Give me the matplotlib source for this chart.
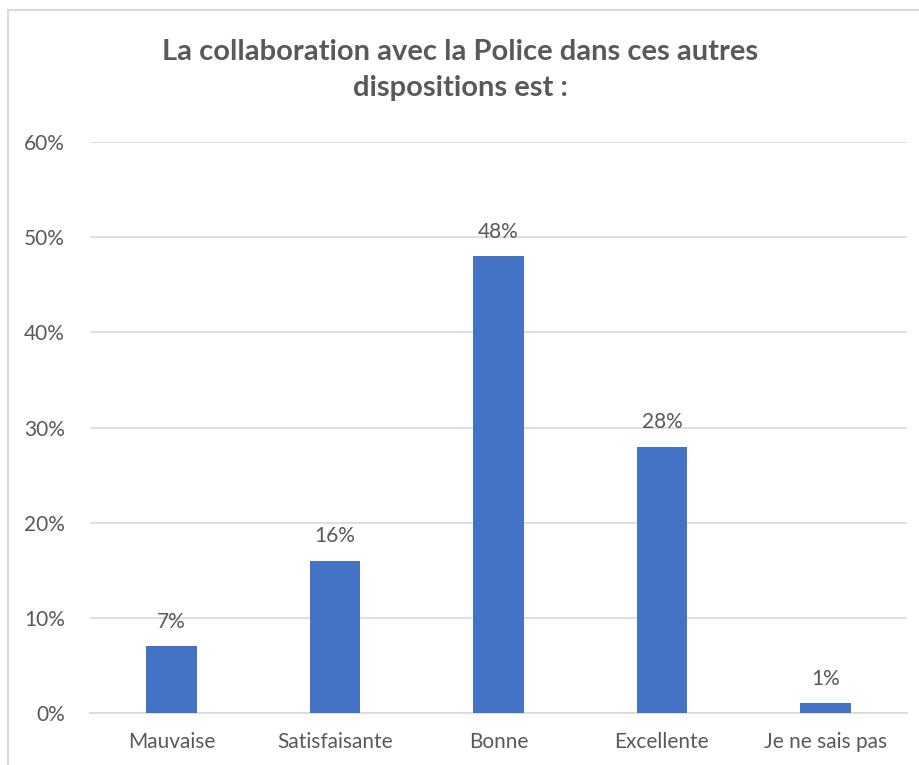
import matplotlib.pyplot as plt
from matplotlib.patches import Rectangle
from matplotlib.ticker import PercentFormatter

categories = ["Mauvaise", "Satisfaisante", "Bonne", "Excellente", "Je ne sais pas"]
values = [7, 16, 48, 28, 1]
yticks = [0, 10, 20, 30, 40, 50, 60]

plt.rcParams['font.family'] = ['Lato', 'DejaVu Sans']
text_col = '#595959'
bar_col = '#4472C4'
grid_col = '#D9D9D9'

fig = plt.figure(figsize=(9.2, 7.65), dpi=100)

# chart frame (light grey border, open to the right and bottom)
fig.patches.append(Rectangle((8 / 920, -0.05), 1.1, 1 - 10 / 765 + 0.05,
                             transform=fig.transFigure, fill=False,
                             edgecolor=grid_col, linewidth=1.5))

ax = fig.add_axes([90 / 920, 52 / 765, 817 / 920, 571 / 765])
x = range(len(categories))
bars = ax.bar(x, values, width=0.31, color=bar_col, zorder=3)

for b, v in zip(bars, values):
    ax.text(b.get_x() + b.get_width() / 2, v + 1.5, f"{v}%",
            ha='center', va='bottom', fontsize=15, color=text_col)

ax.set_xlim(-0.5, len(categories) - 0.5)
ax.set_ylim(0, 60)
ax.set_yticks(yticks)
ax.yaxis.set_major_formatter(PercentFormatter(decimals=0))
ax.set_xticks(list(x))
ax.set_xticklabels(categories)
ax.tick_params(axis='both', length=0, labelsize=15, labelcolor=text_col)
ax.tick_params(axis='y', pad=18)
ax.tick_params(axis='x', pad=14)
ax.grid(axis='y', color=grid_col, linewidth=1.2, zorder=0)
for s in ['top', 'right', 'left']:
    ax.spines[s].set_visible(False)
ax.spines['bottom'].set_color(grid_col)
ax.spines['bottom'].set_linewidth(1.2)

fig.text(0.5, 1 - 70 / 765,
         "La collaboration avec la Police dans ces autres\ndispositions est :",
         ha='center', va='center', fontsize=21, fontweight='bold',
         color=text_col, linespacing=1.5)

fig.savefig("out.png", dpi=100)
